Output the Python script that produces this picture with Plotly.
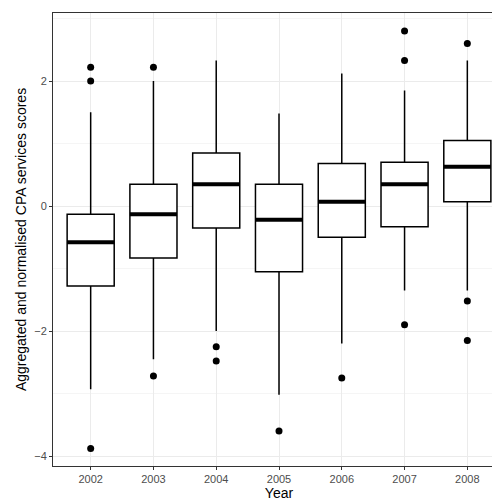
import plotly.graph_objects as go

years = ["2002", "2003", "2004", "2005", "2006", "2007", "2008"]
q1 = [-1.28, -0.83, -0.35, -1.05, -0.50, -0.33, 0.07]
median = [-0.58, -0.13, 0.35, -0.22, 0.07, 0.35, 0.63]
q3 = [-0.13, 0.35, 0.85, 0.35, 0.68, 0.70, 1.05]
lower = [-2.93, -2.45, -2.00, -3.02, -2.20, -1.35, -1.35]
upper = [1.50, 2.00, 2.33, 1.48, 2.12, 1.85, 2.33]
outliers = [[2.22, 2.0, -3.88], [2.22, -2.72], [-2.25, -2.48], [-3.6],
            [-2.75], [2.8, 2.33, -1.9], [2.6, -1.52, -2.15]]

xs = list(range(1, len(years) + 1))
fig = go.Figure()
fig.add_trace(go.Box(x=xs, q1=q1, median=median, q3=q3, lowerfence=lower,
                     upperfence=upper, fillcolor="white", width=0.75,
                     line=dict(color="black", width=1.5), boxpoints=False,
                     whiskerwidth=0, showlegend=False))
# thick medians
mx, my = [], []
for x, m in zip(xs, median):
    mx += [x - 0.375, x + 0.375, None]
    my += [m, m, None]
fig.add_trace(go.Scatter(x=mx, y=my, mode="lines", line=dict(color="black", width=4),
                         showlegend=False))
ox, oy = [], []
for x, o in zip(xs, outliers):
    ox += [x] * len(o)
    oy += o
fig.add_trace(go.Scatter(x=ox, y=oy, mode="markers", marker=dict(color="black", size=7),
                         showlegend=False))

fig.update_layout(
    width=500, height=499, plot_bgcolor="white", paper_bgcolor="white",
    margin=dict(l=45, r=3, t=5, b=41),
    font=dict(family="Liberation Sans, Arial", color="black", size=12),
    xaxis=dict(range=[0.4, 7.6], tickvals=xs, ticktext=years, showgrid=True,
               gridcolor="#ebebeb", showline=True, mirror=True, linecolor="#333",
               ticks="outside", ticklen=3, tickcolor="#333", zeroline=False,
               automargin=False,
               title=dict(text="Year", standoff=2), tickfont=dict(size=11, color="#4d4d4d")),
    yaxis=dict(range=[-4.16, 3.09], tickvals=[-4, -2, 0, 2], showgrid=True,
               gridcolor="#ebebeb", showline=True, mirror=True, linecolor="#333",
               ticks="outside", ticklen=3, tickcolor="#333", zeroline=False,
               minor=dict(tickvals=[-3, -1, 1, 3], showgrid=True, gridcolor="#f5f5f5"),
               title=dict(text="Aggregated and normalised CPA services scores", standoff=4),
               tickfont=dict(size=11, color="#4d4d4d")),
)
fig.write_html("out.html")
